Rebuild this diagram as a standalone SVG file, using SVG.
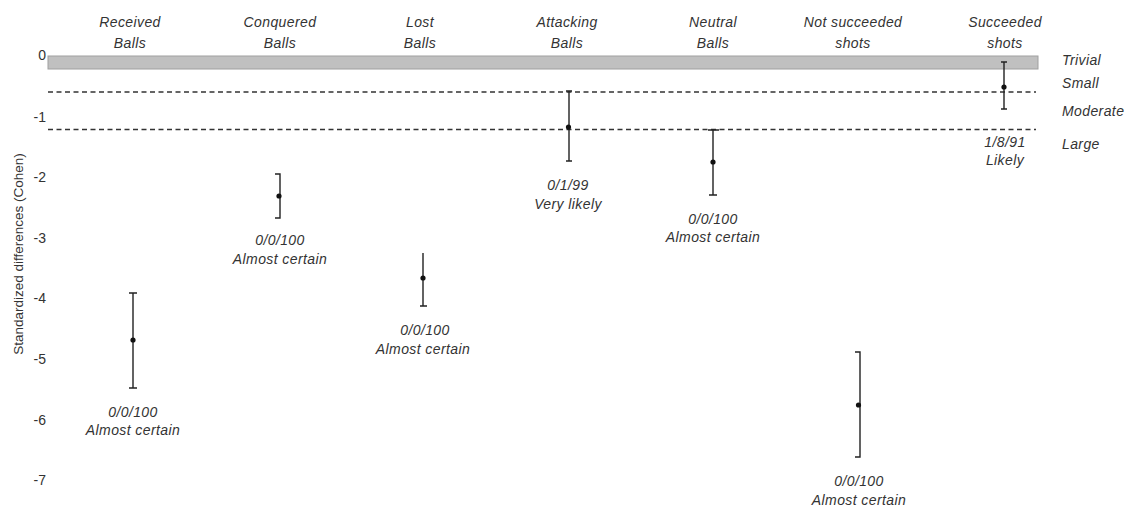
<svg xmlns="http://www.w3.org/2000/svg" width="1132" height="506" viewBox="0 0 1132 506">
<style>
text{font-family:"Liberation Sans",Arial,sans-serif;fill:#333;}
.cat{font-size:14px;font-style:italic;text-anchor:middle;letter-spacing:0.4px;}
.lab{font-size:14px;font-style:italic;text-anchor:middle;letter-spacing:0.4px;}
.tick{font-size:14px;text-anchor:end;dominant-baseline:central;}
.mag{font-size:14px;font-style:italic;letter-spacing:0.4px;}
.bar{stroke:#222;stroke-width:1.4;fill:none;}
.dash{stroke:#333;stroke-width:1.3;stroke-dasharray:5 3.5;}
.pt{fill:#111;}
</style>
<rect width="1132" height="506" fill="#fff"/>
<g id="axis">
<text class="tick" x="46" y="55">0</text>
<text class="tick" x="46" y="117">-1</text>
<text class="tick" x="46" y="177">-2</text>
<text class="tick" x="46" y="238">-3</text>
<text class="tick" x="46" y="298">-4</text>
<text class="tick" x="46" y="359">-5</text>
<text class="tick" x="46" y="420">-6</text>
<text class="tick" x="46" y="480">-7</text>
<text x="18" y="254" font-size="13.5" text-anchor="middle" dominant-baseline="central" transform="rotate(-90 18 254)">Standardized differences (Cohen)</text>
</g>
<g id="thresholds">
<rect x="48" y="56" width="990" height="13" fill="#c0c0c0" stroke="#a0a0a0" stroke-width="1"/>
<line class="dash" x1="48" y1="92" x2="1036" y2="92"/>
<line class="dash" x1="48" y1="129.5" x2="1036" y2="129.5"/>
<text class="mag" x="1062" y="65">Trivial</text>
<text class="mag" x="1062" y="88">Small</text>
<text class="mag" x="1062" y="116">Moderate</text>
<text class="mag" x="1062" y="149">Large</text>
</g>
<g id="received-balls">
<text class="cat" x="130" y="27">Received</text>
<text class="cat" x="130" y="48">Balls</text>
<path class="bar" d="M129 293H137M133 293V388M129 388H137"/>
<circle class="pt" cx="133" cy="340" r="2.6"/>
<text class="lab" x="133" y="417">0/0/100</text>
<text class="lab" x="133" y="435">Almost certain</text>
</g>
<g id="conquered-balls">
<text class="cat" x="280" y="27">Conquered</text>
<text class="cat" x="280" y="48">Balls</text>
<path class="bar" d="M275 174H280V218H275"/>
<circle class="pt" cx="279" cy="196" r="2.6"/>
<text class="lab" x="280" y="245">0/0/100</text>
<text class="lab" x="280" y="264">Almost certain</text>
</g>
<g id="lost-balls">
<text class="cat" x="420" y="27">Lost</text>
<text class="cat" x="420" y="48">Balls</text>
<path class="bar" d="M423 253V306M420 306H427"/>
<circle class="pt" cx="423" cy="278" r="2.6"/>
<text class="lab" x="425" y="335">0/0/100</text>
<text class="lab" x="423" y="354">Almost certain</text>
</g>
<g id="attacking-balls">
<text class="cat" x="567" y="27">Attacking</text>
<text class="cat" x="567" y="48">Balls</text>
<path class="bar" d="M566 91H572M569 91V161M566 161H572"/>
<circle class="pt" cx="568.5" cy="127" r="2.6"/>
<text class="lab" x="568" y="190">0/1/99</text>
<text class="lab" x="568" y="209">Very likely</text>
</g>
<g id="neutral-balls">
<text class="cat" x="713" y="27">Neutral</text>
<text class="cat" x="713" y="48">Balls</text>
<path class="bar" d="M708 130H719M713 130V195M709 195H717"/>
<circle class="pt" cx="713" cy="162" r="2.6"/>
<text class="lab" x="713" y="224">0/0/100</text>
<text class="lab" x="713" y="242">Almost certain</text>
</g>
<g id="not-succeeded-shots">
<text class="cat" x="853" y="27">Not succeeded</text>
<text class="cat" x="853" y="48">shots</text>
<path class="bar" d="M855 352H860V457H855"/>
<circle class="pt" cx="858.5" cy="405" r="2.6"/>
<text class="lab" x="859" y="486">0/0/100</text>
<text class="lab" x="859" y="505">Almost certain</text>
</g>
<g id="succeeded-shots">
<text class="cat" x="1005" y="27">Succeeded</text>
<text class="cat" x="1005" y="48">shots</text>
<path class="bar" d="M1001 62H1007M1004 62V109M1001 109H1007"/>
<circle class="pt" cx="1004" cy="87" r="2.6"/>
<text class="lab" x="1005" y="147">1/8/91</text>
<text class="lab" x="1005" y="165">Likely</text>
</g>
<g id="connectors"></g>
</svg>
